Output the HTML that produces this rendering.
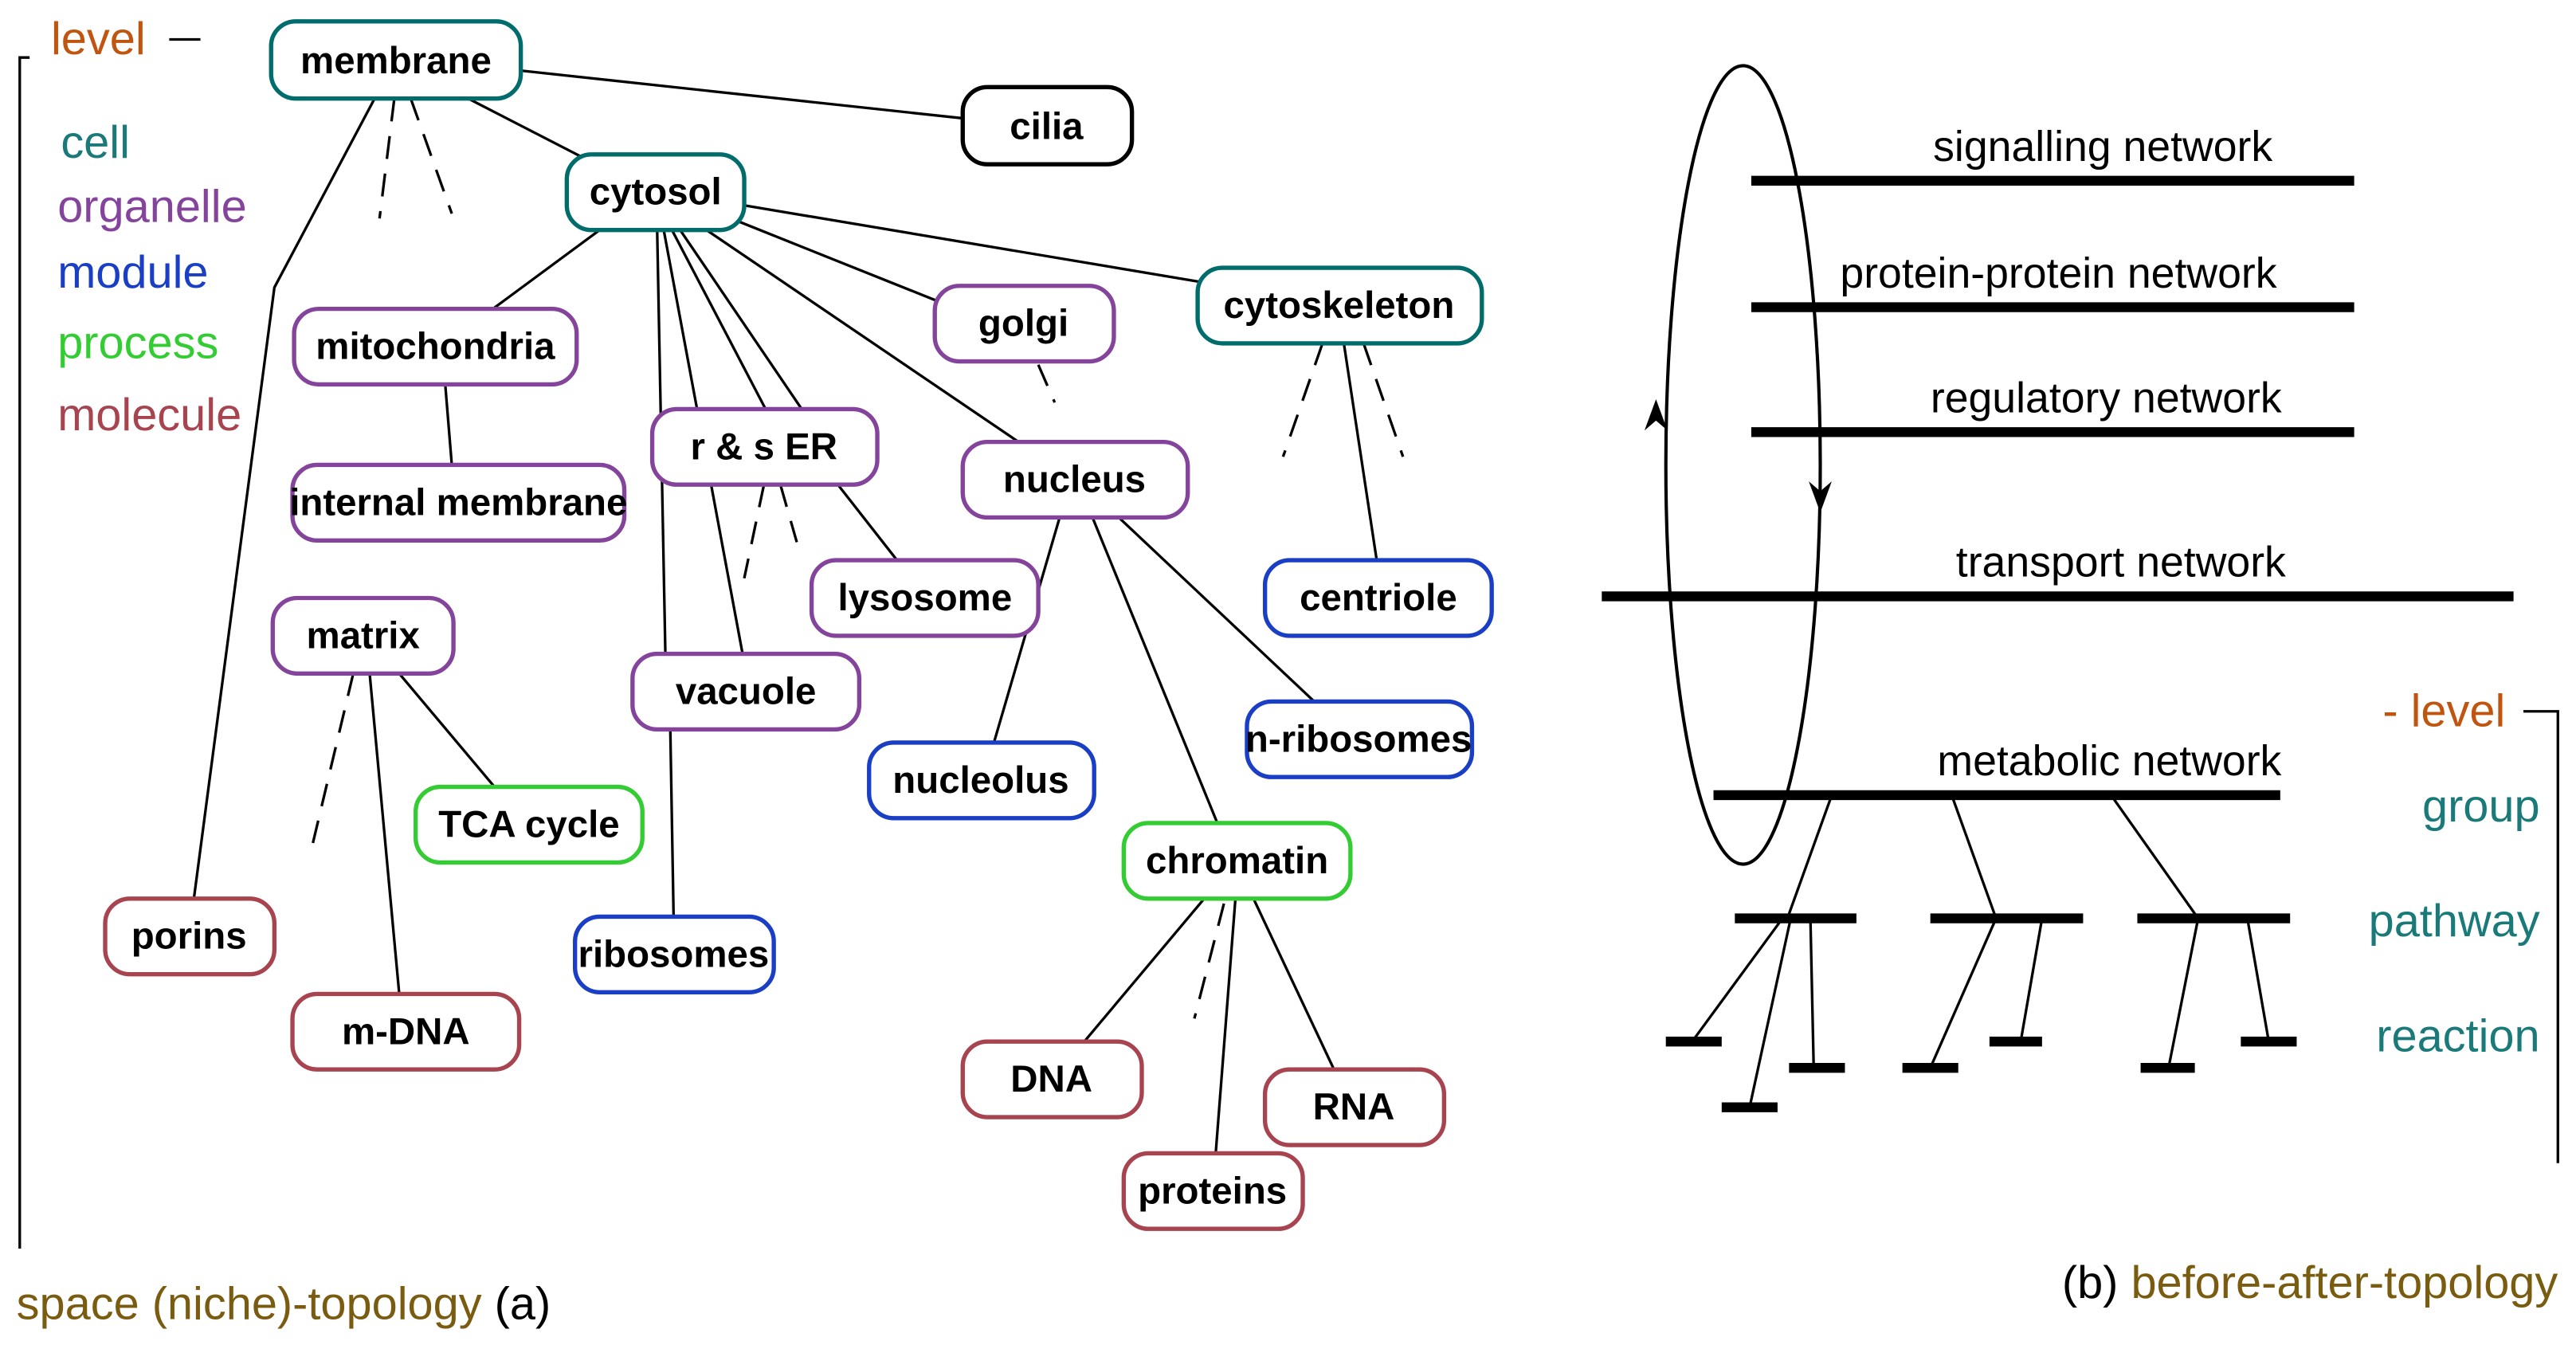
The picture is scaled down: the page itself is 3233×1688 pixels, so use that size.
<!DOCTYPE html>
<html><head><meta charset="utf-8"><style>
html,body{margin:0;padding:0;background:#fff;}
svg{display:block;}
text{font-family:"Liberation Sans Narrow","Liberation Sans",sans-serif;}
.n text{font-weight:bold;font-size:23px;text-anchor:middle;dominant-baseline:central;fill:#000;}
</style></head><body>
<svg width="3233" height="1688" viewBox="0 0 1568 818.7" xmlns="http://www.w3.org/2000/svg">
<g stroke="#000" stroke-width="1.6" fill="none">
<line x1="317" y1="43" x2="586" y2="72"/>
<line x1="285" y1="60" x2="355" y2="96"/>
<polyline points="228,60 167,175 118,547"/>
<line x1="365" y1="140" x2="300" y2="188"/>
<line x1="453" y1="125" x2="733" y2="172"/>
<line x1="450" y1="135" x2="570" y2="183"/>
<line x1="430" y1="140" x2="620" y2="269"/>
<line x1="400" y1="140" x2="405" y2="398"/>
<line x1="408" y1="444" x2="410" y2="558"/>
<line x1="404" y1="140" x2="452" y2="398"/>
<line x1="409" y1="140" x2="466" y2="249"/>
<line x1="414" y1="140" x2="488" y2="249"/>
<line x1="510" y1="295" x2="546" y2="341"/>
<line x1="271" y1="234" x2="275" y2="283"/>
<line x1="225" y1="410" x2="243" y2="605"/>
<line x1="243" y1="410" x2="301" y2="479"/>
<line x1="818" y1="209" x2="838" y2="341"/>
<line x1="645" y1="315" x2="605" y2="452"/>
<line x1="665" y1="315" x2="741" y2="501"/>
<line x1="681" y1="315" x2="800" y2="427"/>
<line x1="733" y1="547" x2="660" y2="634"/>
<line x1="752" y1="547" x2="740" y2="702"/>
<line x1="763" y1="547" x2="812" y2="651"/>
<g stroke-dasharray="14,9">
<line x1="240" y1="60" x2="231" y2="133"/>
<line x1="250" y1="60" x2="275" y2="130"/>
<line x1="465" y1="295" x2="453" y2="352"/>
<line x1="475" y1="295" x2="485" y2="330"/>
<line x1="215" y1="410" x2="190" y2="515"/>
<line x1="632" y1="222" x2="642" y2="245"/>
<line x1="805" y1="209" x2="781" y2="278"/>
<line x1="830" y1="209" x2="854" y2="278"/>
<line x1="745" y1="550" x2="727" y2="620"/>
</g>
</g>
<g class="n" stroke-width="2.6" fill="#fff">
<g stroke="#006c6c"><rect x="165" y="13" width="152" height="47" rx="15"/><text x="241" y="37" stroke="none">membrane</text></g>
<g stroke="#000"><rect x="586" y="53" width="103" height="47" rx="15"/><text x="637" y="77" stroke="none" font-weight="normal">cilia</text></g>
<g stroke="#006c6c"><rect x="345" y="94" width="108" height="46" rx="15"/><text x="399" y="117" stroke="none">cytosol</text></g>
<g stroke="#84449c"><rect x="179" y="188" width="172" height="46" rx="15"/><text x="265" y="211" stroke="none">mitochondria</text></g>
<g stroke="#84449c"><rect x="569" y="174" width="109" height="46" rx="15"/><text x="623" y="197" stroke="none">golgi</text></g>
<g stroke="#006c6c"><rect x="729" y="163" width="173" height="46" rx="15"/><text x="815" y="186" stroke="none">cytoskeleton</text></g>
<g stroke="#84449c"><rect x="397" y="249" width="137" height="46" rx="15"/><text x="465" y="272" stroke="none">r &amp; s ER</text></g>
<g stroke="#84449c"><rect x="586" y="269" width="137" height="46" rx="15"/><text x="654" y="292" stroke="none">nucleus</text></g>
<g stroke="#84449c"><rect x="178" y="283" width="202" height="46" rx="15"/><text x="279" y="306" stroke="none" font-size="20">internal membrane</text></g>
<g stroke="#84449c"><rect x="494" y="341" width="138" height="46" rx="15"/><text x="563" y="364" stroke="none">lysosome</text></g>
<g stroke="#1a3fc4"><rect x="770" y="341" width="138" height="46" rx="15"/><text x="839" y="364" stroke="none">centriole</text></g>
<g stroke="#84449c"><rect x="166" y="364" width="110" height="46" rx="15"/><text x="221" y="387" stroke="none" font-size="20">matrix</text></g>
<g stroke="#84449c"><rect x="385" y="398" width="138" height="46" rx="15"/><text x="454" y="421" stroke="none">vacuole</text></g>
<g stroke="#1a3fc4"><rect x="759" y="427" width="137" height="46" rx="15"/><text x="827" y="450" stroke="none" font-size="20">n-ribosomes</text></g>
<g stroke="#1a3fc4"><rect x="529" y="452" width="137" height="46" rx="15"/><text x="597" y="475" stroke="none">nucleolus</text></g>
<g stroke="#33cc33"><rect x="253" y="479" width="138" height="46" rx="15"/><text x="322" y="502" stroke="none" font-size="20" font-weight="normal">TCA cycle</text></g>
<g stroke="#33cc33"><rect x="684" y="501" width="138" height="46" rx="15"/><text x="753" y="524" stroke="none">chromatin</text></g>
<g stroke="#a84450"><rect x="64" y="547" width="103" height="46" rx="15"/><text x="115" y="570" stroke="none" font-weight="normal">porins</text></g>
<g stroke="#1a3fc4"><rect x="350" y="558" width="121" height="46" rx="15"/><text x="410" y="581" stroke="none" font-size="20">ribosomes</text></g>
<g stroke="#a84450"><rect x="178" y="605" width="138" height="46" rx="15"/><text x="247" y="628" stroke="none" font-size="20">m-DNA</text></g>
<g stroke="#a84450"><rect x="586" y="634" width="109" height="46" rx="15"/><text x="640" y="657" stroke="none">DNA</text></g>
<g stroke="#a84450"><rect x="770" y="651" width="109" height="46" rx="15"/><text x="824" y="674" stroke="none">RNA</text></g>
<g stroke="#a84450"><rect x="684" y="702" width="109" height="46" rx="15"/><text x="738" y="725" stroke="none">proteins</text></g>
</g>
<!-- left legend -->
<polyline points="18,35 12,35 12,760" stroke="#000" stroke-width="1.6" fill="none"/>
<line x1="103" y1="24" x2="122" y2="24" stroke="#000" stroke-width="1.6"/>
<g font-size="28">
<text x="31" y="33" fill="#c0550f">level</text>
<text x="37" y="96" fill="#1a7a7a">cell</text>
<text x="35" y="135" fill="#84449c">organelle</text>
<text x="35" y="175" fill="#1a3fc4">module</text>
<text x="35" y="218" fill="#33cc33">process</text>
<text x="35" y="262" fill="#a84450">molecule</text>
<text x="10" y="803" fill="#7a5c10">space (niche)-topology <tspan fill="#000">(a)</tspan></text>
</g>
<!-- right panel -->
<g stroke="#000" fill="none">
<ellipse cx="1061" cy="283" rx="47" ry="243" stroke-width="2"/>
<g stroke-width="6">
<line x1="1066" y1="110" x2="1433" y2="110"/>
<line x1="1066" y1="187" x2="1433" y2="187"/>
<line x1="1066" y1="263" x2="1433" y2="263"/>
<line x1="975" y1="363" x2="1530" y2="363"/>
<line x1="1043" y1="484" x2="1388" y2="484"/>
<line x1="1056" y1="559" x2="1130" y2="559"/>
<line x1="1175" y1="559" x2="1268" y2="559"/>
<line x1="1301" y1="559" x2="1394" y2="559"/>
<line x1="1014" y1="634" x2="1048" y2="634"/>
<line x1="1211" y1="634" x2="1243" y2="634"/>
<line x1="1364" y1="634" x2="1398" y2="634"/>
<line x1="1089" y1="650" x2="1123" y2="650"/>
<line x1="1158" y1="650" x2="1192" y2="650"/>
<line x1="1303" y1="650" x2="1336" y2="650"/>
<line x1="1048" y1="674" x2="1082" y2="674"/>
</g>
<g stroke-width="1.6">
<line x1="1115" y1="484" x2="1088" y2="559"/>
<line x1="1188" y1="484" x2="1215" y2="559"/>
<line x1="1285" y1="484" x2="1338" y2="559"/>
<line x1="1085" y1="559" x2="1030" y2="634"/>
<line x1="1090" y1="559" x2="1065" y2="674"/>
<line x1="1102" y1="559" x2="1104" y2="650"/>
<line x1="1215" y1="559" x2="1175" y2="650"/>
<line x1="1243" y1="559" x2="1230" y2="634"/>
<line x1="1338" y1="559" x2="1320" y2="650"/>
<line x1="1368" y1="559" x2="1381" y2="634"/>
<polyline points="1536,433 1557,433 1557,708"/>
</g>
</g>
<path d="M1008,243 L1001,262 L1008,256 L1015,262 Z" fill="#000"/>
<path d="M1108,312 L1101,293 L1108,299 L1115,293 Z" fill="#000"/>
<g font-size="26" text-anchor="middle" fill="#000">
<text x="1280" y="98">signalling network</text>
<text x="1253" y="175">protein-protein network</text>
<text x="1282" y="251">regulatory network</text>
<text x="1291" y="351">transport network</text>
<text x="1284" y="472">metabolic network</text>
</g>
<g font-size="28" text-anchor="end">
<text x="1525" y="442" fill="#c0550f">- level</text>
<text x="1546" y="500" fill="#1a7a7a">group</text>
<text x="1546" y="570" fill="#1a7a7a">pathway</text>
<text x="1546" y="640" fill="#1a7a7a">reaction</text>
<text x="1557" y="790" fill="#7a5c10"><tspan fill="#000">(b)</tspan> before-after-topology</text>
</g>
</svg>
</body></html>
